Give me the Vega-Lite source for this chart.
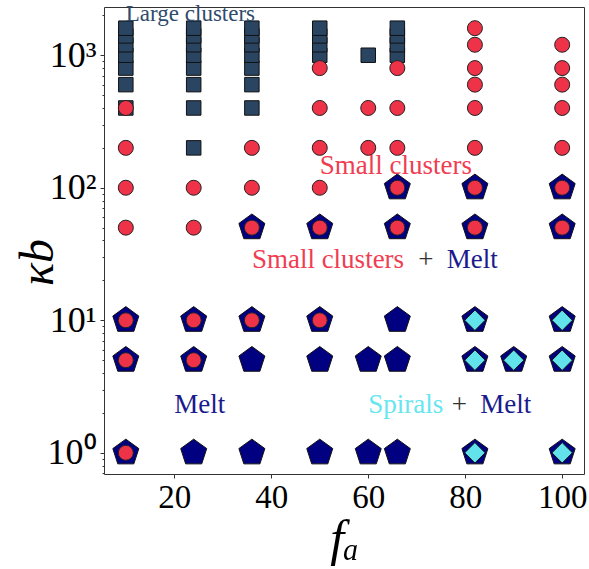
{
  "$schema": "https://vega.github.io/schema/vega-lite/v6.json",
  "width": 480,
  "height": 467,
  "autosize": "none",
  "padding": {"left": 104, "top": 7, "right": 5, "bottom": 95},
  "background": "white",
  "config": {"view": {"stroke": "#333", "strokeWidth": 1}, "font": "Liberation Serif"},
  "datasets": {
    "pts": [
      {"f": 24, "k": 200, "p": "L"},
      {"f": 10, "k": 400, "p": "L"}, {"f": 24, "k": 400, "p": "L"}, {"f": 36, "k": 400, "p": "L"},
      {"f": 10, "k": 600, "p": "L"}, {"f": 24, "k": 600, "p": "L"}, {"f": 36, "k": 600, "p": "L"},
      {"f": 10, "k": 800, "p": "L"}, {"f": 24, "k": 800, "p": "L"}, {"f": 36, "k": 800, "p": "L"},
      {"f": 10, "k": 1000, "p": "L"}, {"f": 24, "k": 1000, "p": "L"}, {"f": 36, "k": 1000, "p": "L"}, {"f": 50, "k": 1000, "p": "L"}, {"f": 60, "k": 1000, "p": "L"}, {"f": 66, "k": 1000, "p": "L"},
      {"f": 10, "k": 1200, "p": "L"}, {"f": 24, "k": 1200, "p": "L"}, {"f": 36, "k": 1200, "p": "L"}, {"f": 50, "k": 1200, "p": "L"}, {"f": 66, "k": 1200, "p": "L"},
      {"f": 10, "k": 1400, "p": "L"}, {"f": 24, "k": 1400, "p": "L"}, {"f": 36, "k": 1400, "p": "L"}, {"f": 50, "k": 1400, "p": "L"}, {"f": 66, "k": 1400, "p": "L"},
      {"f": 10, "k": 1600, "p": "L"}, {"f": 24, "k": 1600, "p": "L"}, {"f": 36, "k": 1600, "p": "L"}, {"f": 50, "k": 1600, "p": "L"}, {"f": 66, "k": 1600, "p": "L"},

      {"f": 10, "k": 1, "p": "M"}, {"f": 24, "k": 1, "p": "M"}, {"f": 36, "k": 1, "p": "M"}, {"f": 50, "k": 1, "p": "M"}, {"f": 60, "k": 1, "p": "M"}, {"f": 66, "k": 1, "p": "M"}, {"f": 82, "k": 1, "p": "M"}, {"f": 100, "k": 1, "p": "M"},
      {"f": 10, "k": 5, "p": "M"}, {"f": 24, "k": 5, "p": "M"}, {"f": 36, "k": 5, "p": "M"}, {"f": 50, "k": 5, "p": "M"}, {"f": 60, "k": 5, "p": "M"}, {"f": 66, "k": 5, "p": "M"}, {"f": 82, "k": 5, "p": "M"}, {"f": 90, "k": 5, "p": "M"}, {"f": 100, "k": 5, "p": "M"},
      {"f": 10, "k": 10, "p": "M"}, {"f": 24, "k": 10, "p": "M"}, {"f": 36, "k": 10, "p": "M"}, {"f": 50, "k": 10, "p": "M"}, {"f": 66, "k": 10, "p": "M"}, {"f": 82, "k": 10, "p": "M"}, {"f": 100, "k": 10, "p": "M"},
      {"f": 36, "k": 50, "p": "M"}, {"f": 50, "k": 50, "p": "M"}, {"f": 66, "k": 50, "p": "M"}, {"f": 82, "k": 50, "p": "M"}, {"f": 100, "k": 50, "p": "M"},
      {"f": 66, "k": 100, "p": "M"}, {"f": 82, "k": 100, "p": "M"}, {"f": 100, "k": 100, "p": "M"},

      {"f": 10, "k": 1, "p": "S"},
      {"f": 10, "k": 5, "p": "S"}, {"f": 24, "k": 5, "p": "S"},
      {"f": 10, "k": 10, "p": "S"}, {"f": 24, "k": 10, "p": "S"}, {"f": 36, "k": 10, "p": "S"}, {"f": 50, "k": 10, "p": "S"},
      {"f": 10, "k": 50, "p": "S"}, {"f": 24, "k": 50, "p": "S"}, {"f": 36, "k": 50, "p": "S"}, {"f": 50, "k": 50, "p": "S"}, {"f": 66, "k": 50, "p": "S"}, {"f": 82, "k": 50, "p": "S"}, {"f": 100, "k": 50, "p": "S"},
      {"f": 10, "k": 100, "p": "S"}, {"f": 24, "k": 100, "p": "S"}, {"f": 36, "k": 100, "p": "S"}, {"f": 50, "k": 100, "p": "S"}, {"f": 66, "k": 100, "p": "S"}, {"f": 82, "k": 100, "p": "S"}, {"f": 100, "k": 100, "p": "S"},
      {"f": 10, "k": 200, "p": "S"}, {"f": 36, "k": 200, "p": "S"}, {"f": 50, "k": 200, "p": "S"}, {"f": 60, "k": 200, "p": "S"}, {"f": 66, "k": 200, "p": "S"}, {"f": 82, "k": 200, "p": "S"}, {"f": 100, "k": 200, "p": "S"},
      {"f": 10, "k": 400, "p": "S"}, {"f": 50, "k": 400, "p": "S"}, {"f": 60, "k": 400, "p": "S"}, {"f": 66, "k": 400, "p": "S"}, {"f": 82, "k": 400, "p": "S"}, {"f": 100, "k": 400, "p": "S"},
      {"f": 82, "k": 600, "p": "S"}, {"f": 100, "k": 600, "p": "S"},
      {"f": 50, "k": 800, "p": "S"}, {"f": 66, "k": 800, "p": "S"}, {"f": 82, "k": 800, "p": "S"}, {"f": 100, "k": 800, "p": "S"},
      {"f": 82, "k": 1200, "p": "S"}, {"f": 100, "k": 1200, "p": "S"},
      {"f": 82, "k": 1600, "p": "S"},

      {"f": 82, "k": 1, "p": "Sp"}, {"f": 100, "k": 1, "p": "Sp"},
      {"f": 82, "k": 5, "p": "Sp"}, {"f": 90, "k": 5, "p": "Sp"}, {"f": 100, "k": 5, "p": "Sp"},
      {"f": 82, "k": 10, "p": "Sp"}, {"f": 100, "k": 10, "p": "Sp"}
    ],
    "labels": [
      {"f": 10, "k": 1800, "t": "Large clusters", "g": "L"},
      {"f": 50, "k": 126, "t": "Small clusters", "g": "S"},
      {"f": 36, "k": 25, "t": "Small clusters", "g": "S"},
      {"f": 70.3, "k": 25, "t": "+", "g": "P"},
      {"f": 76.2, "k": 25, "t": "Melt", "g": "M"},
      {"f": 20, "k": 2, "t": "Melt", "g": "M"},
      {"f": 60, "k": 2, "t": "Spirals", "g": "Sp"},
      {"f": 77.2, "k": 2, "t": "+", "g": "P"},
      {"f": 83.1, "k": 2, "t": "Melt", "g": "M"}
    ]
  },
  "encoding": {
    "x": {
      "field": "f", "type": "quantitative",
      "scale": {"domain": [5.5, 104.5], "nice": false, "zero": false},
      "axis": {
        "values": [20, 40, 60, 80, 100],
        "title": "fₐ",
        "titleFont": "Liberation Serif", "titleFontStyle": "italic", "titleFontWeight": "normal",
        "titleFontSize": 50, "titleColor": "black", "titlePadding": 0,
        "labelFont": "Liberation Serif", "labelFontSize": 33, "labelColor": "black",
        "labelPadding": 3, "tickColor": "#333", "tickSize": 4, "domain": false, "grid": false
      }
    },
    "y": {
      "field": "k", "type": "quantitative",
      "scale": {"type": "log", "domain": [0.692, 2312], "nice": false},
      "axis": {
        "values": [0.7, 0.8, 0.9, 1, 2, 3, 4, 5, 6, 7, 8, 9, 10, 20, 30, 40, 50, 60, 70, 80, 90, 100, 200, 300, 400, 500, 600, 700, 800, 900, 1000, 2000],
        "labelExpr": "datum.value == 1 ? '10⁰' : datum.value == 10 ? '10¹' : datum.value == 100 ? '10²' : datum.value == 1000 ? '10³' : ''",
        "labelOverlap": false,
        "title": "κb",
        "titleFont": "Liberation Serif", "titleFontStyle": "italic", "titleFontWeight": "normal",
        "titleFontSize": 48, "titleColor": "black",
        "titleX": -52, "titleY": 255, "titleAngle": -90, "titleAlign": "center", "titleBaseline": "alphabetic",
        "labelFont": "Liberation Serif", "labelFontSize": 36, "labelColor": "black",
        "labelPadding": 4, "tickColor": "#333",
        "tickSize": {"condition": {"test": "indexof([1,10,100,1000], datum.value) >= 0", "value": 4}, "value": 2},
        "domain": false, "grid": false
      }
    }
  },
  "layer": [
    {
      "data": {"name": "pts"},
      "transform": [{"filter": "datum.p == 'L'"}],
      "mark": {"type": "point", "shape": "square", "filled": true, "size": 210, "color": "#2a4562", "stroke": "#111", "strokeWidth": 1, "opacity": 1}
    },
    {
      "data": {"name": "pts"},
      "transform": [{"filter": "datum.p == 'M'"}],
      "mark": {"type": "point", "shape": "M0,-1L0.951,-0.309L0.588,0.809L-0.588,0.809L-0.951,-0.309Z", "filled": true, "size": 747, "color": "#000080", "stroke": "#111", "strokeWidth": 1, "opacity": 1}
    },
    {
      "data": {"name": "pts"},
      "transform": [{"filter": "datum.p == 'S'"}],
      "mark": {"type": "point", "shape": "circle", "filled": true, "size": 225, "color": "#ee3348", "stroke": "#222", "strokeWidth": 1, "opacity": 1}
    },
    {
      "data": {"name": "pts"},
      "transform": [{"filter": "datum.p == 'Sp'"}],
      "mark": {"type": "point", "shape": "diamond", "filled": true, "size": 420, "color": "#62e3eb", "stroke": "#111", "strokeWidth": 1, "opacity": 1}
    },
    {
      "data": {"name": "labels"},
      "transform": [{"filter": "datum.g == 'L'"}],
      "mark": {"type": "text", "align": "left", "baseline": "alphabetic", "font": "Liberation Serif", "fontSize": 23, "color": "#2f4b6b"},
      "encoding": {"text": {"field": "t"}}
    },
    {
      "data": {"name": "labels"},
      "transform": [{"filter": "datum.g != 'L'"}],
      "mark": {"type": "text", "align": "left", "baseline": "alphabetic", "font": "Liberation Serif", "fontSize": 27},
      "encoding": {
        "text": {"field": "t"},
        "color": {"field": "g", "type": "nominal", "scale": {"domain": ["S", "P", "M", "Sp"], "range": ["#f03d52", "#333333", "#1a1a8c", "#66e6ef"]}, "legend": null}
      }
    }
  ]
}
